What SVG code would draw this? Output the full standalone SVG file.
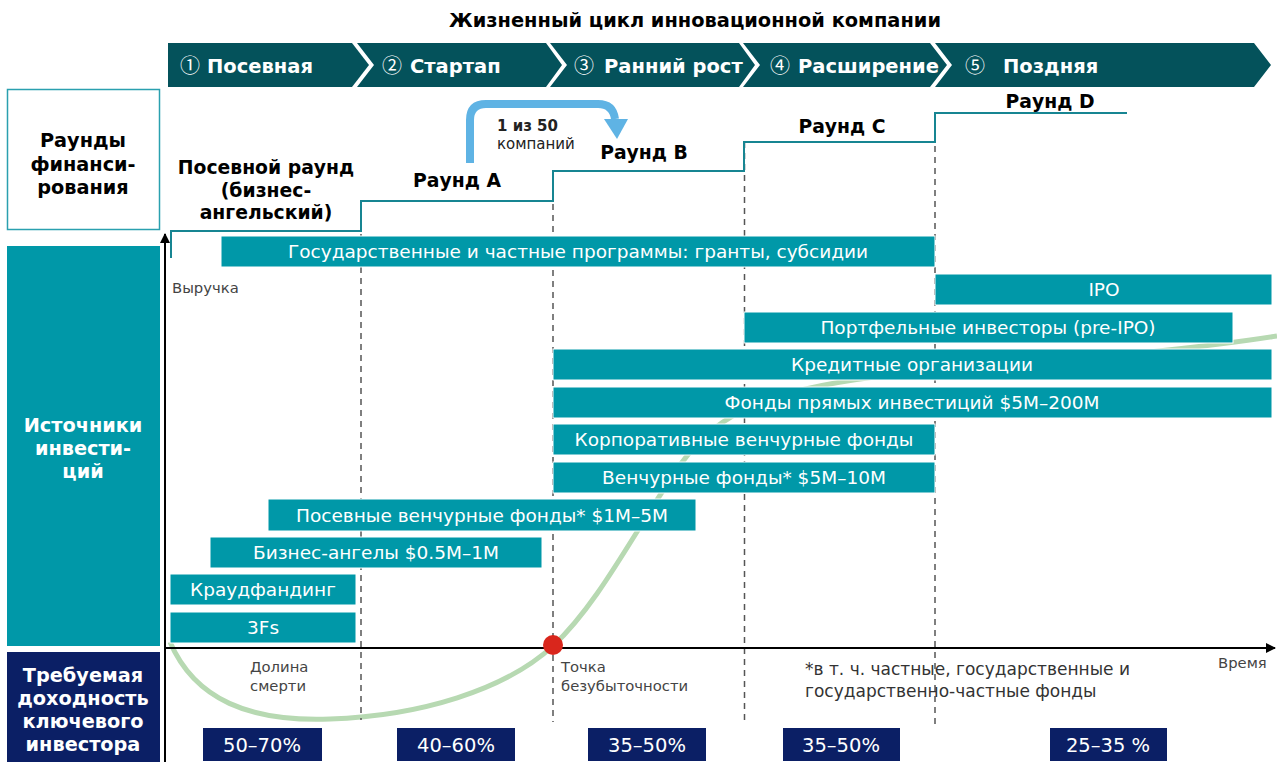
<svg xmlns="http://www.w3.org/2000/svg" width="1277" height="762" viewBox="0 0 1277 762">
<defs>
<style>
text{font-family:"DejaVu Sans","Liberation Sans",sans-serif}
.t{font-size:19.4px;font-weight:bold;fill:#000}
.ch{fill:#04525B}
.cht{font-size:19.5px;font-weight:bold;fill:#fff}
.num{font-family:"Noto Sans CJK JP","DejaVu Sans",sans-serif;font-size:20px;font-weight:normal;fill:#fff}
.bar{fill:#0098A8;stroke:#fff;stroke-width:1}
.bt{font-size:18.5px;fill:#fff;text-anchor:middle}
.pct{fill:#0B1F65}
.pt{font-size:19.5px;fill:#fff;text-anchor:middle}
.rl{font-size:18.8px;font-weight:bold;fill:#000;text-anchor:middle}
.lh{font-size:19.3px;font-weight:bold;text-anchor:middle}
.dash{stroke:#555;stroke-width:1.5;stroke-dasharray:6,5;fill:none}
.step{stroke:#178592;stroke-width:2;fill:none}
.g{font-size:14.8px;fill:#444}
</style>
<marker id="ah" markerWidth="10" markerHeight="10" refX="9" refY="5" orient="auto" markerUnits="userSpaceOnUse">
<path d="M0,0 L10,5 L0,10 z" fill="#000"/>
</marker>
</defs>
<rect width="1277" height="762" fill="#fff"/>

<text x="695" y="27" class="t" text-anchor="middle">Жизненный цикл инновационной компании</text>

<g id="stages">
<polygon class="ch" points="168,43 352,43 369,65 352,87 168,87"/>
<polygon class="ch" points="357,43 546,43 562,65 546,87 357,87 374,65"/>
<polygon class="ch" points="550,43 739,43 755,65 739,87 550,87 567,65"/>
<polygon class="ch" points="743,43 930,43 947,65 930,87 743,87 760,65"/>
<polygon class="ch" points="935,43 1254,43 1271,65 1254,87 935,87 952,65"/>
<text x="180" y="73" class="num">①</text><text x="207" y="73" class="cht">Посевная</text>
<text x="382" y="73" class="num">②</text><text x="410" y="73" class="cht">Стартап</text>
<text x="574" y="73" class="num">③</text><text x="604" y="73" class="cht">Ранний рост</text>
<text x="770" y="73" class="num">④</text><text x="798" y="73" class="cht">Расширение</text>
<text x="965" y="73" class="num">⑤</text><text x="1003" y="73" class="cht">Поздняя</text>
</g>

<g id="row-headers">
<g id="h-rounds">
<rect x="7.5" y="89.5" width="152" height="140" fill="#fff" stroke="#2AA0AF" stroke-width="1.5"/>
<text class="lh" fill="#000" x="83" y="147">Раунды</text>
<text class="lh" fill="#000" x="83" y="171">финанси-</text>
<text class="lh" fill="#000" x="83" y="194">рования</text>
</g>
<g id="h-sources">
<rect x="7" y="246" width="153" height="400" fill="#0098A8"/>
<text class="lh" fill="#fff" x="83" y="432">Источники</text>
<text class="lh" fill="#fff" x="83" y="455">инвести-</text>
<text class="lh" fill="#fff" x="83" y="478">ций</text>
</g>
<g id="h-return">
<rect x="7" y="652" width="153" height="110" fill="#0B1F65"/>
<text class="lh" fill="#fff" x="83" y="682">Требуемая</text>
<text class="lh" fill="#fff" x="83" y="705">доходность</text>
<text class="lh" fill="#fff" x="83" y="728">ключевого</text>
<text class="lh" fill="#fff" x="83" y="751">инвестора</text>
</g>
</g>

<g id="curve">
<path d="M170,642 C195,700 250,722 330,719 C420,716 505,690 553,646 C600,602 635,530 680,465 C720,410 770,388 900,374 C1050,360 1180,352 1277,336" fill="none" stroke="#B7D9B2" stroke-width="5"/>
</g>

<g id="connectors">
<line x1="361" y1="201" x2="361" y2="720" class="dash"/>
<line x1="553" y1="171" x2="553" y2="722" class="dash"/>
<line x1="744.5" y1="142" x2="744.5" y2="722" class="dash"/>
<line x1="935" y1="113" x2="935" y2="728" class="dash"/>
<polyline class="step" points="171,258 171,231 361,231 361,201 553,201 553,171 744,171 744,142 935,142 935,113 1127,113"/>
<line x1="165" y1="762" x2="165" y2="234" stroke="#000" stroke-width="2" marker-end="url(#ah)"/>
<line x1="164" y1="648" x2="1275" y2="648" stroke="#000" stroke-width="2" marker-end="url(#ah)"/>
<path d="M470,163 V120 Q470,104 486,104 H598 Q613,104 615,119" fill="none" stroke="#5FB3E4" stroke-width="8"/>
<polygon points="604,119 628,119 617,139" fill="#5FB3E4"/>
</g>

<g id="rounds">
<text class="rl" x="266" y="174">Посевной раунд</text>
<text class="rl" x="266" y="197">(бизнес-</text>
<text class="rl" x="266" y="219">ангельский)</text>
<text class="rl" x="457" y="187">Раунд А</text>
<text class="rl" x="644" y="159">Раунд  B</text>
<text class="rl" x="842" y="133">Раунд  C</text>
<text class="rl" x="1050" y="108">Раунд  D</text>
<text x="497" y="131" style="font-size:15px;font-weight:bold" fill="#222">1 из 50</text>
<text x="497" y="149" style="font-size:15px" fill="#222">компаний</text>
</g>

<g id="sources">
<g id="s1"><rect class="bar" x="221" y="236" width="714" height="31"/><text class="bt" x="578" y="258">Государственные и частные программы: гранты, субсидии</text></g>
<g id="s2"><rect class="bar" x="935" y="274" width="337" height="31"/><text class="bt" x="1104" y="296">IPO</text></g>
<g id="s3"><rect class="bar" x="744" y="312" width="489" height="31"/><text class="bt" x="988" y="334">Портфельные инвесторы (pre-IPO)</text></g>
<g id="s4"><rect class="bar" x="553" y="349" width="719" height="31"/><text class="bt" x="912" y="371">Кредитные организации</text></g>
<g id="s5"><rect class="bar" x="553" y="387" width="719" height="31"/><text class="bt" x="912" y="409">Фонды прямых инвестиций $5M–200M</text></g>
<g id="s6"><rect class="bar" x="553" y="424" width="382" height="31"/><text class="bt" x="744" y="446">Корпоративные венчурные фонды</text></g>
<g id="s7"><rect class="bar" x="553" y="462" width="382" height="31"/><text class="bt" x="744" y="484">Венчурные фонды* $5M–10M</text></g>
<g id="s8"><rect class="bar" x="268" y="499" width="428" height="32"/><text class="bt" x="482" y="522">Посевные венчурные фонды* $1M–5M</text></g>
<g id="s9"><rect class="bar" x="210" y="537" width="332" height="31"/><text class="bt" x="376" y="559">Бизнес-ангелы $0.5M–1M</text></g>
<g id="s10"><rect class="bar" x="170" y="574" width="186" height="31"/><text class="bt" x="263" y="596">Краудфандинг</text></g>
<g id="s11"><rect class="bar" x="170" y="612" width="186" height="31"/><text class="bt" x="263" y="634">3Fs</text></g>
</g>

<circle id="breakeven" cx="553" cy="645" r="10" fill="#D9261C"/>

<g id="annotations">
<text class="g" x="172" y="293">Выручка</text>
<text class="g" x="1218" y="668">Время</text>
<text class="g" x="250" y="672">Долина</text>
<text class="g" x="250" y="691">смерти</text>
<text class="g" x="561" y="672">Точка</text>
<text class="g" x="561" y="691">безубыточности</text>
<text x="805" y="675" style="font-size:17px" fill="#333">*в т. ч. частные, государственные и</text>
<text x="805" y="697" style="font-size:17px" fill="#333">государственно-частные фонды</text>
</g>

<g id="returns">
<g id="r1"><rect class="pct" x="203" y="728" width="119" height="33"/><text class="pt" x="262" y="752">50–70%</text></g>
<g id="r2"><rect class="pct" x="397" y="728" width="118" height="33"/><text class="pt" x="456" y="752">40–60%</text></g>
<g id="r3"><rect class="pct" x="588" y="728" width="118" height="33"/><text class="pt" x="647" y="752">35–50%</text></g>
<g id="r4"><rect class="pct" x="783" y="728" width="117" height="33"/><text class="pt" x="841" y="752">35–50%</text></g>
<g id="r5"><rect class="pct" x="1050" y="728" width="117" height="33"/><text class="pt" x="1108" y="752">25–35 %</text></g>
</g>
</svg>
